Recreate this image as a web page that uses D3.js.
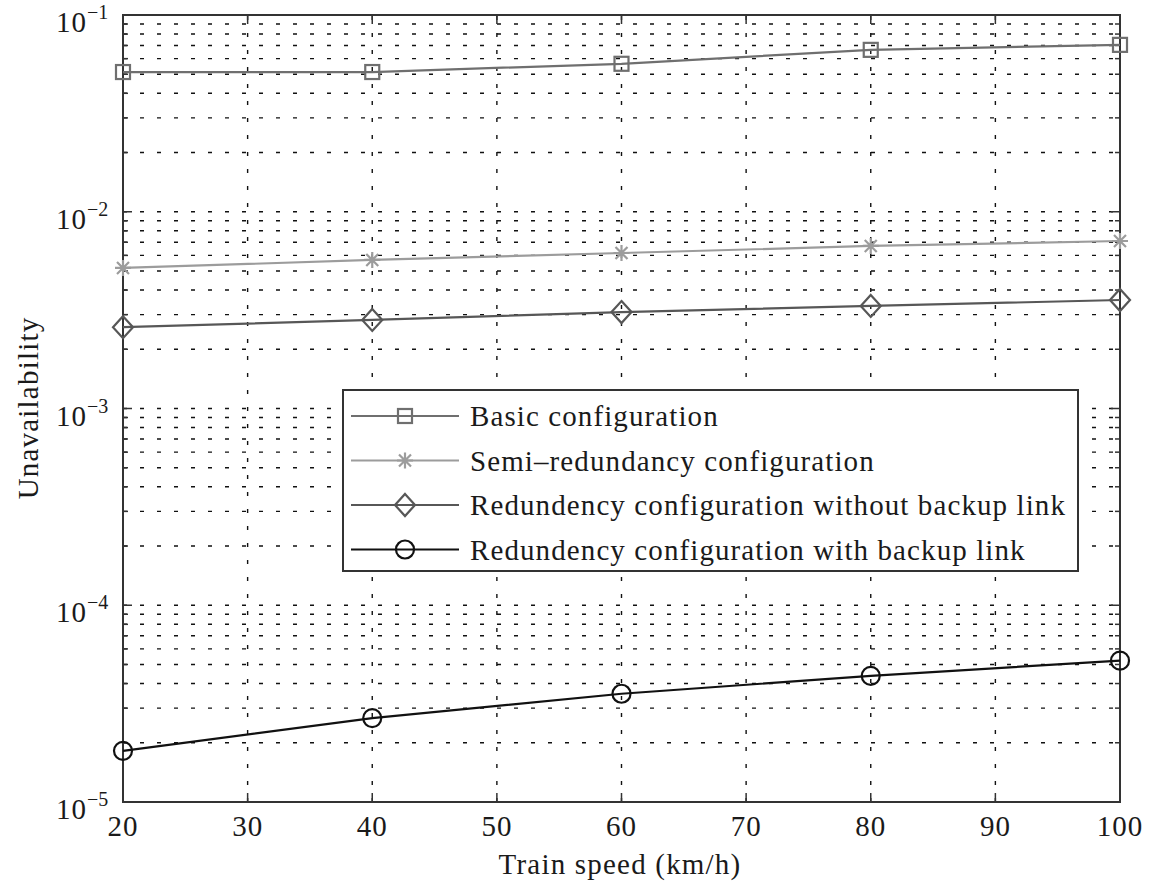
<!DOCTYPE html>
<html>
<head>
<meta charset="utf-8">
<script src="https://cdn.jsdelivr.net/npm/d3@7"></script>
<style>
  body { margin: 0; background: #fff; }
  svg { font-family: "Liberation Serif", "DejaVu Serif", serif; }
</style>
</head>
<body>
<svg id="chart"></svg>
<script>
// data
const speeds = [20, 40, 60, 80, 100];
const basic = [0.0513, 0.0513, 0.0565, 0.0665, 0.0705];
const semiRedundancy = [0.00518, 0.00569, 0.00617, 0.0067, 0.0071];
const redundancyNoBackup = [0.00259, 0.00282, 0.00309, 0.00332, 0.00356];
const redundancyBackup = [1.82e-5, 2.67e-5, 3.55e-5, 4.38e-5, 5.23e-5];
const seriesNames = [
    "Basic configuration",
    "Semi\u2013redundancy configuration",
    "Redundency configuration without backup link",
    "Redundency configuration with backup link"
];
const xTicks = [20, 30, 40, 50, 60, 70, 80, 90, 100];
const yExponents = [-5, -4, -3, -2, -1];

const width = 1149, height = 888;
const margin = {top: 15, right: 29, bottom: 86, left: 123};
const fontSize = 29;

const series = [
    {name: seriesNames[0], values: basic, color: "#6f6f6f", marker: "square"},
    {name: seriesNames[1], values: semiRedundancy, color: "#9c9c9c", marker: "star"},
    {name: seriesNames[2], values: redundancyNoBackup, color: "#575757", marker: "diamond"},
    {name: seriesNames[3], values: redundancyBackup, color: "#111111", marker: "circle"}
];

const svg = d3.select("#chart")
    .attr("width", width)
    .attr("height", height);

let x = d3.scaleLinear()
    .domain([20, 100])
    .range([margin.left, width - margin.right]);

let y = d3.scaleLog()
    .domain([1e-5, 1e-1])
    .range([height - margin.bottom, margin.top]);

const x0 = x.range()[0], x1 = x.range()[1];
const y0 = y.range()[0], y1 = y.range()[1];

// minor + major log values
let yMinor = [];
for (let e = -5; e < -1; e++) {
    for (let m = 2; m <= 9; m++) yMinor.push(m * Math.pow(10, e));
}
const yMajor = yExponents.map(e => Math.pow(10, e));

// grid
const grid = svg.append("g")
    .attr("stroke", "#111")
    .attr("stroke-width", 1.4)
    .attr("stroke-dasharray", "4,13");

grid.selectAll(".hgrid")
    .data(yMinor.concat(yMajor.slice(1, -1)))
    .join("line")
      .attr("x1", x0).attr("x2", x1)
      .attr("y1", d => y(d)).attr("y2", d => y(d));

grid.selectAll(".vgrid")
    .data(xTicks.slice(1, -1))
    .join("line")
      .attr("class", "vgrid")
      .attr("y1", y0).attr("y2", y1)
      .attr("x1", d => x(d)).attr("x2", d => x(d));

// ticks, inward on all four sides
const ticks = svg.append("g").attr("stroke", "#333").attr("stroke-width", 1.5);
xTicks.forEach(v => {
    ticks.append("line").attr("x1", x(v)).attr("x2", x(v)).attr("y1", y0).attr("y2", y0 - 9);
    ticks.append("line").attr("x1", x(v)).attr("x2", x(v)).attr("y1", y1).attr("y2", y1 + 9);
});
yMajor.forEach(v => {
    ticks.append("line").attr("x1", x0).attr("x2", x0 + 9).attr("y1", y(v)).attr("y2", y(v));
    ticks.append("line").attr("x1", x1).attr("x2", x1 - 9).attr("y1", y(v)).attr("y2", y(v));
});
yMinor.forEach(v => {
    ticks.append("line").attr("x1", x0).attr("x2", x0 + 5).attr("y1", y(v)).attr("y2", y(v));
    ticks.append("line").attr("x1", x1).attr("x2", x1 - 5).attr("y1", y(v)).attr("y2", y(v));
});

// frame
svg.append("rect")
    .attr("x", x0).attr("y", y1)
    .attr("width", x1 - x0).attr("height", y0 - y1)
    .attr("fill", "none")
    .attr("stroke", "#333")
    .attr("stroke-width", 2);

// tick labels
svg.append("g")
    .selectAll("text")
    .data(xTicks)
    .join("text")
      .attr("x", d => x(d))
      .attr("y", y0 + 34)
      .attr("text-anchor", "middle")
      .attr("font-size", fontSize)
      .attr("letter-spacing", 1)
      .attr("fill", "#1a1a1a")
      .text(d => d);

const yLabels = svg.append("g")
    .selectAll("text")
    .data(yExponents)
    .join("text")
      .attr("x", 56)
      .attr("y", d => y(Math.pow(10, d)) + 17)
      .attr("font-size", fontSize)
      .attr("letter-spacing", 1)
      .attr("fill", "#1a1a1a");
yLabels.append("tspan").text("10");
yLabels.append("tspan")
    .attr("dy", -13)
    .attr("font-size", 20)
    .attr("letter-spacing", 0)
    .text(d => "\u2212" + Math.abs(d));

// axis titles
svg.append("text")
    .attr("x", 620)
    .attr("y", 874)
    .attr("text-anchor", "middle")
    .attr("font-size", fontSize)
    .attr("letter-spacing", 1.2)
    .attr("fill", "#1a1a1a")
    .text("Train speed (km/h)");

svg.append("text")
    .attr("transform", "translate(38,408) rotate(-90)")
    .attr("text-anchor", "middle")
    .attr("font-size", fontSize)
    .attr("letter-spacing", 1.2)
    .attr("fill", "#1a1a1a")
    .text("Unavailability");

// markers
function drawMarker(g, type, color) {
    if (type === "square") {
        g.append("rect").attr("x", -7).attr("y", -7).attr("width", 14).attr("height", 14)
            .attr("fill", "none").attr("stroke", color).attr("stroke-width", 2.2);
    } else if (type === "diamond") {
        g.append("path").attr("d", "M0,-11L10,0L0,11L-10,0Z")
            .attr("fill", "none").attr("stroke", color).attr("stroke-width", 2.2);
    } else if (type === "circle") {
        g.append("circle").attr("r", 9)
            .attr("fill", "none").attr("stroke", color).attr("stroke-width", 2.2);
    } else if (type === "star") {
        g.append("path").attr("d", "M0,-8V8M-8,0H8M-6,-6L6,6M-6,6L6,-6")
            .attr("fill", "none").attr("stroke", color).attr("stroke-width", 2.2);
    }
}

const line = d3.line()
    .x((d, i) => x(speeds[i]))
    .y(d => y(d));

series.forEach(s => {
    svg.append("path")
        .datum(s.values)
        .attr("fill", "none")
        .attr("stroke", s.color)
        .attr("stroke-width", 2.2)
        .attr("d", line);

    svg.append("g")
        .selectAll("g")
        .data(s.values)
        .join("g")
          .attr("transform", (d, i) => `translate(${x(speeds[i])},${y(d)})`)
          .each(function() { drawMarker(d3.select(this), s.marker, s.color); });
});

// legend
const legend = svg.append("g").attr("transform", "translate(343,390)");
legend.append("rect")
    .attr("width", 735).attr("height", 181)
    .attr("fill", "#fff")
    .attr("stroke", "#333")
    .attr("stroke-width", 2);

const legendRows = legend.selectAll(".row")
    .data(series)
    .join("g")
      .attr("transform", (d, i) => `translate(0,${26 + i * 44.5})`);

legendRows.append("line")
    .attr("x1", 8).attr("x2", 116)
    .attr("stroke", d => d.color)
    .attr("stroke-width", 2.2);

legendRows.append("g")
    .attr("transform", "translate(62,0)")
    .each(function(d) { drawMarker(d3.select(this), d.marker, d.color); });

legendRows.append("text")
    .attr("x", 127)
    .attr("y", 10)
    .attr("font-size", fontSize)
    .attr("letter-spacing", 1.1)
    .attr("fill", "#1a1a1a")
    .text(d => d.name);
</script>
</body>
</html>
